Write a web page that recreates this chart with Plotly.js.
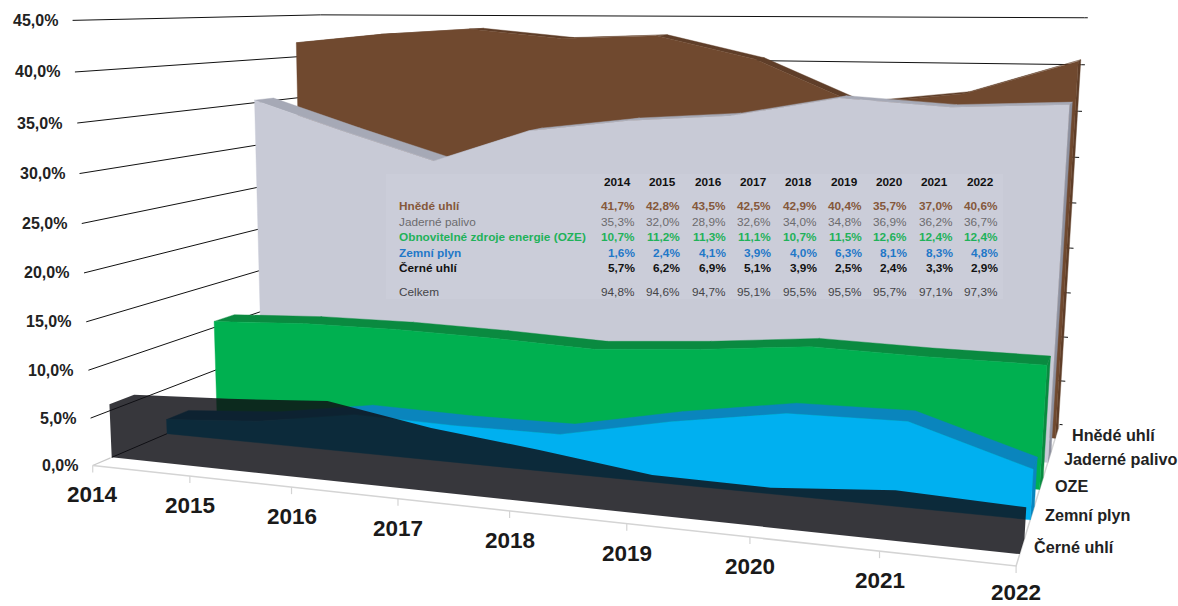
<!DOCTYPE html>
<html><head><meta charset="utf-8">
<script src="https://cdn.plot.ly/plotly-3.0.1.min.js"></script>
<style>html,body{margin:0;padding:0;background:#fff}</style></head>
<body><div id="chart" style="width:1178px;height:606px"></div>
<script>
const years = [2014,2015,2016,2017,2018,2019,2020,2021,2022];
const hnedeUhli   = [41.7,42.8,43.5,42.5,42.9,40.4,35.7,37.0,40.6];
const jadernePalivo = [35.3,32.0,28.9,32.6,34.0,34.8,36.9,36.2,36.7];
const oze         = [10.7,11.2,11.3,11.1,10.7,11.5,12.6,12.4,12.4];
const zemniPlyn   = [1.6,2.4,4.1,3.9,4.0,6.3,8.1,8.3,4.8];
const cerneUhli   = [5.7,6.2,6.9,5.1,3.9,2.5,2.4,3.3,2.9];
const celkem      = [94.8,94.6,94.7,95.1,95.5,95.5,95.7,97.1,97.3];
const yTicks = [0,5,10,15,20,25,30,35,40,45];
const axisNames = ['Černé uhlí','Zemní plyn','OZE','Jaderné palivo','Hnědé uhlí'];
const tableLabels = ['Hnědé uhlí','Jaderné palivo','Obnovitelné zdroje energie (OZE)','Zemní plyn','Černé uhlí','Celkem'];

// ---- perspective scale: fitted from (year index, depth, value) -> page pixel anchors
const dF=-0.32, dB=4.62, thick=0.43;
const anchors=[
[0,0,0,112,457],[0,0,5.7,110,405],[8,0,0,1018,553],[8,0,2.9,1024,520],
[0,1,0,167,434],[0,1,1.6,167,420],[8,1,0,1029,520],[8,1,4.8,1033,468],
[0,2,0,217,411],[0,2,10.7,215,322],[8,2,0,1040,490],[8,2,12.4,1048,358],
[0,3,0,261,392],[0,3,35.3,255,101],[8,3,0,1050,463],[8,3,36.7,1070,105],
[0,4,0,299,375],[0,4,41.7,295,43],[8,4,0,1055,440],[8,4,40.6,1078,62],
[0,dF,0,95,465],[0,dF,45,71,21],[8,dF,0,1015,568],
[0,dF,40,73,72],[0,dF,35,76,123],[0,dF,30,79,173],[0,dF,25,82,223],[0,dF,20,84,272],[0,dF,15,86,321],[0,dF,10,88,370],[0,dF,5,91,417],
[1,dF,0,192,477],[2,dF,0,293,488],[3,dF,0,399,500],[4,dF,0,509,512],[5,dF,0,627,525],[6,dF,0,750,538],[7,dF,0,877,553],
[0,dB,45,325,15],[8,dB,45,1085,18],[8,dB,40,1080,65]
];
function solve(A,b){const n=b.length;for(let i=0;i<n;i++){let p=i;for(let r=i+1;r<n;r++)if(Math.abs(A[r][i])>Math.abs(A[p][i]))p=r;
 [A[i],A[p]]=[A[p],A[i]];[b[i],b[p]]=[b[p],b[i]];
 for(let r=i+1;r<n;r++){const f=A[r][i]/A[i][i];for(let c=i;c<n;c++)A[r][c]-=f*A[i][c];b[r]-=f*b[i];}}
 const x=new Array(n).fill(0);for(let i=n-1;i>=0;i--){let s=b[i];for(let c=i+1;c<n;c++)s-=A[i][c]*x[c];x[i]=s/A[i][i];}return x;}
function fit(){const rows=[],rhs=[];anchors.forEach(([t,d,v,X,Y])=>{
 rows.push([t,d,v,1,0,0,0,0,-X*t,-X*d,-X*v]);rhs.push(X);
 rows.push([0,0,0,0,t,d,v,1,-Y*t,-Y*d,-Y*v]);rhs.push(Y);});
 const n=11,A=[...Array(n)].map(()=>new Array(n).fill(0)),b=new Array(n).fill(0);
 rows.forEach((r,k)=>{for(let i=0;i<n;i++){b[i]+=r[i]*rhs[k];for(let j=0;j<n;j++)A[i][j]+=r[i]*r[j];}});
 return solve(A,b);}
const P=fit();
function proj(t,d,v){const w=P[8]*t+P[9]*d+P[10]*v+1;return [(P[0]*t+P[1]*d+P[2]*v+P[3])/w,(P[4]*t+P[5]*d+P[6]*v+P[7])/w];}

const traces=[];
function line(pts,color,width){traces.push({type:'scatter',mode:'lines',x:pts.map(p=>p[0]),y:pts.map(p=>p[1]),
 line:{color,width},hoverinfo:'skip',showlegend:false,cliponaxis:false});}
function poly(pts,color,name,w){traces.push({type:'scatter',mode:'lines',x:pts.map(p=>p?p[0]:null),y:pts.map(p=>p?p[1]:null),
 fill:'toself',fillcolor:color,line:{color:w===0?'rgba(0,0,0,0)':color,width:w===undefined?0.4:w},hoverinfo:'skip',showlegend:false,name,cliponaxis:false});}
// one winding direction, so that overlaps inside one path are not painted twice
function clockwise(pts){let a=0;for(let i=0;i<pts.length;i++){const p=pts[i],q=pts[(i+1)%pts.length];a+=p[0]*q[1]-q[0]*p[1];}
 return a>0?pts:pts.slice().reverse();}

// walls
yTicks.forEach(v=>{
 if(v>0){line([proj(0,dF,v),proj(0,dB,v),proj(8,dB,v)],'#111',1);}
 else{line([proj(0,dF,0),proj(0,-0.02,0)],'#c9c9c9',1.2);line([proj(0,0,0),proj(0,1,0)],'#111',1);}
 line([proj(8,dB,v),proj(8.03,dB,v)],'#111',1);
});
// floor front edge, ticks, right edge
line([proj(0,dF,0),proj(8,dF,0),proj(8,dB,0)],'#d4d4d4',1.5);
years.forEach((y,i)=>{const a=proj(i,dF,0);line([a,[a[0],a[1]+7]],'#d4d4d4',1.2);});

// series, back to front
const seriesDefs=[
 {name:'Hnědé uhlí',vals:hnedeUhli,d:4,face:'#70492f',top:'#5f3e29',side:'#5f3e29'},
 {name:'Jaderné palivo',vals:jadernePalivo,d:3,face:'#c8cad6',top:'#a6a9b6',side:'#8d909e'},
 {name:'OZE',vals:oze,d:2,face:'#00b050',top:'#0a8a40',side:'#0a8a40'},
 {name:'Zemní plyn',vals:zemniPlyn,d:1,face:'#00b0f0',top:'#0a85bd',side:'#0a85bd'},
 {name:'Černé uhlí',vals:cerneUhli,d:0,face:'rgba(15,15,20,0.83)',merge:true}
];
seriesDefs.forEach(s=>{
 const d0=s.d,d1=s.d+thick,last=s.vals.length-1;
 const sideQ=[proj(last,d0,0),proj(last,d1,0),proj(last,d1,s.vals[last]),proj(last,d0,s.vals[last])];
 const topQ=[];
 for(let i=0;i<last;i++){topQ.push([proj(i,d0,s.vals[i]),proj(i+1,d0,s.vals[i+1]),proj(i+1,d1,s.vals[i+1]),proj(i,d1,s.vals[i])]);}
 const f=[proj(0,d0,0)];s.vals.forEach((v,i)=>f.push(proj(i,d0,v)));f.push(proj(last,d0,0));
 const join=list=>{const out=[];list.forEach(q=>{const c=clockwise(q);out.push(...c,c[0],null);});return out;};
 if(s.merge){poly(join([sideQ,...topQ,f]),s.face,s.name,0);}
 else{
  poly(join([sideQ]),s.side,s.name+' side');
  poly(join(topQ),s.top,s.name+' top');
  poly(join([f]),s.face,s.name);
 }
});

// annotations
const ann=[];
const txt=(x,y,text,o={})=>ann.push(Object.assign({xref:'x',yref:'y',x,y,text,showarrow:false,xanchor:'left',yanchor:'middle',
  font:{family:'Liberation Sans',size:11.8,color:'#111'},borderpad:0},o));
yTicks.forEach(v=>{const a=proj(0,dF,v);txt(a[0]-14,a[1],v.toFixed(1).replace('.',',')+'%',{xanchor:'right',font:{family:'Liberation Sans',size:16,color:'#222',weight:700}});});
years.forEach((y,i)=>{const a=proj(i,dF,0);txt(a[0],Math.min(a[1]+29.5,592),String(y),{xanchor:'center',font:{family:'Liberation Sans',size:22.5,color:'#1a1a1a',weight:700}});});
const nameX=[1033,1044,1054,1063,1071],nameY=[547,515,486,459,435];
axisNames.forEach((n,i)=>txt(nameX[i],nameY[i],n,{font:{family:'Liberation Sans',size:16.2,color:'#222',weight:700}}));

// table
const colR=[636,681,727,772,817.5,863,908,953.5,999];
const rowY=[206,222,237,253,268,292];
const rowCol=['#85583b','#6b6b6e','#1fb25a','#1f78c8','#111111','#444448'];
const rowBold=[true,false,true,true,true,false];
const rowVals=[hnedeUhli,jadernePalivo,oze,zemniPlyn,cerneUhli,celkem];
years.forEach((y,i)=>txt(colR[i]-19,182,String(y),{xanchor:'center',font:{family:'Liberation Sans',size:11.8,color:'#111',weight:700}}));
tableLabels.forEach((l,r)=>{
 const font={family:'Liberation Sans',size:11.8,color:rowCol[r],weight:rowBold[r]?700:400};
 txt(398,rowY[r],l,{font});
 rowVals[r].forEach((v,i)=>txt(colR[i],rowY[r],v.toFixed(1).replace('.',',')+'%',{xanchor:'right',font}));
});

const layout={width:1178,height:606,margin:{l:0,r:0,t:0,b:0},paper_bgcolor:'#fff',plot_bgcolor:'#fff',showlegend:false,
 xaxis:{range:[0,1178],visible:false,fixedrange:true},
 yaxis:{range:[606,0],visible:false,fixedrange:true},
 annotations:ann,
 shapes:[{type:'rect',xref:'x',yref:'y',x0:386,x1:1003,y0:174,y1:299,fillcolor:'#cbcdd9',line:{width:0},layer:'above'}]};
Plotly.newPlot('chart',traces,layout,{displayModeBar:false,staticPlot:true});
</script></body></html>
